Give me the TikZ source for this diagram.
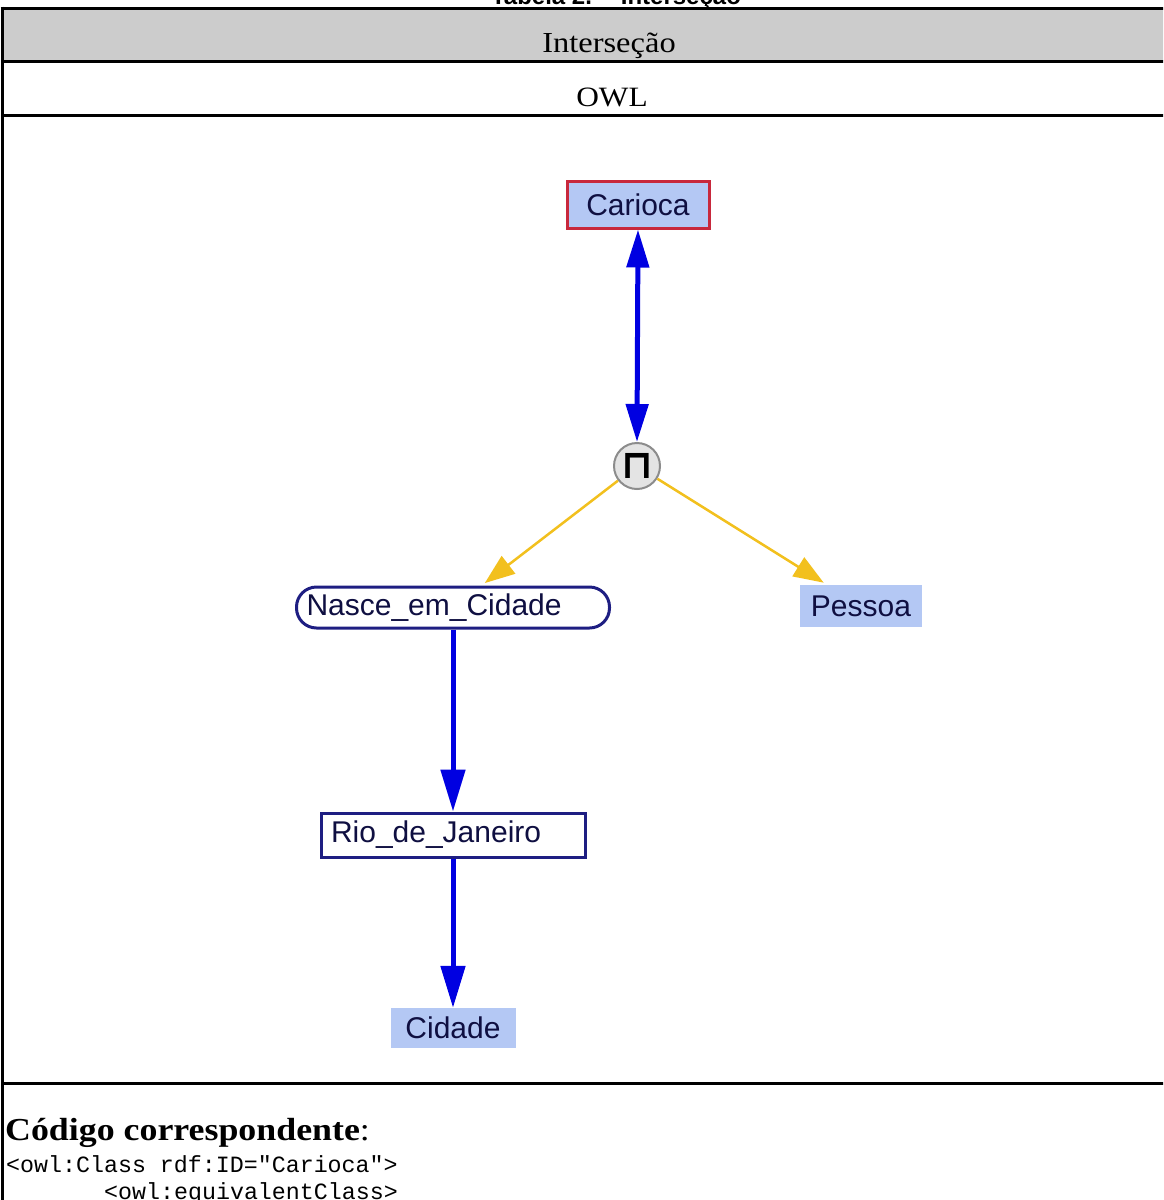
\documentclass[tikz,border=0pt]{standalone}
\usepackage{fontspec}
\setmainfont{Liberation Serif}[FakeStretch=1.12]
\setsansfont{Liberation Sans}
\setmonofont{Liberation Mono}
\newfontfamily\symfont{DejaVu Sans}
\usetikzlibrary{arrows.meta}

\definecolor{hdrgray}{RGB}{204,204,204}
\definecolor{clsblue}{RGB}{180,200,244}
\definecolor{clsred}{RGB}{200,40,60}
\definecolor{navy}{RGB}{30,30,130}
\definecolor{linkblue}{RGB}{0,0,225}
\definecolor{gold}{RGB}{242,192,30}
\definecolor{opgray}{RGB}{228,228,228}
\definecolor{opedge}{RGB}{140,140,140}

\tikzset{
  rule/.style={line width=3pt, black},
  lbl/.style={font=\sffamily\fontsize{30}{34}\selectfont, text=navy!50!black, inner sep=0pt, anchor=center},
  named/.style={lbl, fill=clsblue, draw=clsred, line width=3pt},
  plain/.style={lbl, fill=clsblue},
  restr/.style={lbl, fill=white, draw=navy, line width=3pt},
  bluelink/.style={linkblue, line width=5pt},
  goldlink/.style={gold, line width=2.5pt, -{Triangle[length=30pt,width=22pt]}, shorten >=4pt},
}

\begin{document}
\begin{tikzpicture}[x=1pt,y=-1pt]
\useasboundingbox (0,0) rectangle (1163,1200);
\clip (0,0) rectangle (1163,1200);

% caption above the table (only its lower part shows)
\node[font=\sffamily\bfseries\fontsize{24}{28}\selectfont, anchor=base] (cap) at (616,4) {Tabela 2. – Interseção};

% table frame
\fill[hdrgray] (2,8) rectangle (1170,61);
\draw[rule] (0.5,8) -- (1170,8);
\draw[rule] (2,61) -- (1170,61);
\draw[rule] (2,115) -- (1170,115);
\draw[rule] (2,1083) -- (1170,1083);
\draw[rule] (2,6.5) -- (2,1210);

\node[font=\fontsize{29}{32}\selectfont, anchor=base] (hdr) at (609,52) {Interseção};
\node[font=\fontsize{28}{32}\selectfont, anchor=base] (owl) at (612,106) {OWL};

% diagram nodes
\node[named, minimum width=142pt, minimum height=47pt] (carioca) at (638,204.5) {Carioca};
\node[circle, fill=opgray, draw=opedge, line width=2pt, minimum size=46pt, inner sep=0pt,
      font=\symfont\bfseries\fontsize{40}{40}\selectfont] (isect) at (637,466) {\raisebox{-1pt}{⊓}};
\node[restr, rounded corners=20pt, minimum width=313pt, minimum height=41pt,
      text width=293pt, align=left] (nasce) at (453,607.5) {Nasce\_em\_Cidade};
\node[plain, minimum width=122pt, minimum height=42pt] (pessoa) at (861,606) {Pessoa};
\node[restr, minimum width=264pt, minimum height=44pt,
      text width=244pt, align=left] (rio) at (453,835) {Rio\_de\_Janeiro};
\node[plain, minimum width=125pt, minimum height=40pt] (cidade) at (453,1028) {Cidade};

% connectors
\draw[bluelink, {Triangle[length=38pt,width=22pt]}-{Triangle[length=38pt,width=22pt]}] (carioca.south) -- (isect.north);
\draw[goldlink] (isect) -- (nasce);
\draw[goldlink] (isect) -- (pessoa);
\draw[bluelink, -{Triangle[length=42pt,width=24pt]}] (nasce.south) -- (rio.north);
\draw[bluelink, -{Triangle[length=42pt,width=24pt]}] (rio.south) -- (cidade.north);

% code section
\node[font=\bfseries\fontsize{32}{36}\selectfont, anchor=base west, inner sep=0pt] (codehead) at (5,1140)
  {Código correspondente\mdseries:};
\node[font=\ttfamily\fontsize{23.3}{27}\selectfont, anchor=base west, inner sep=0pt] (code1) at (6,1172)
  {<owl:Class rdf:ID="Carioca">};
\node[font=\ttfamily\fontsize{23.3}{27}\selectfont, anchor=base west, inner sep=0pt] (code2) at (104,1199)
  {<owl:equivalentClass>};
\end{tikzpicture}
\end{document}
